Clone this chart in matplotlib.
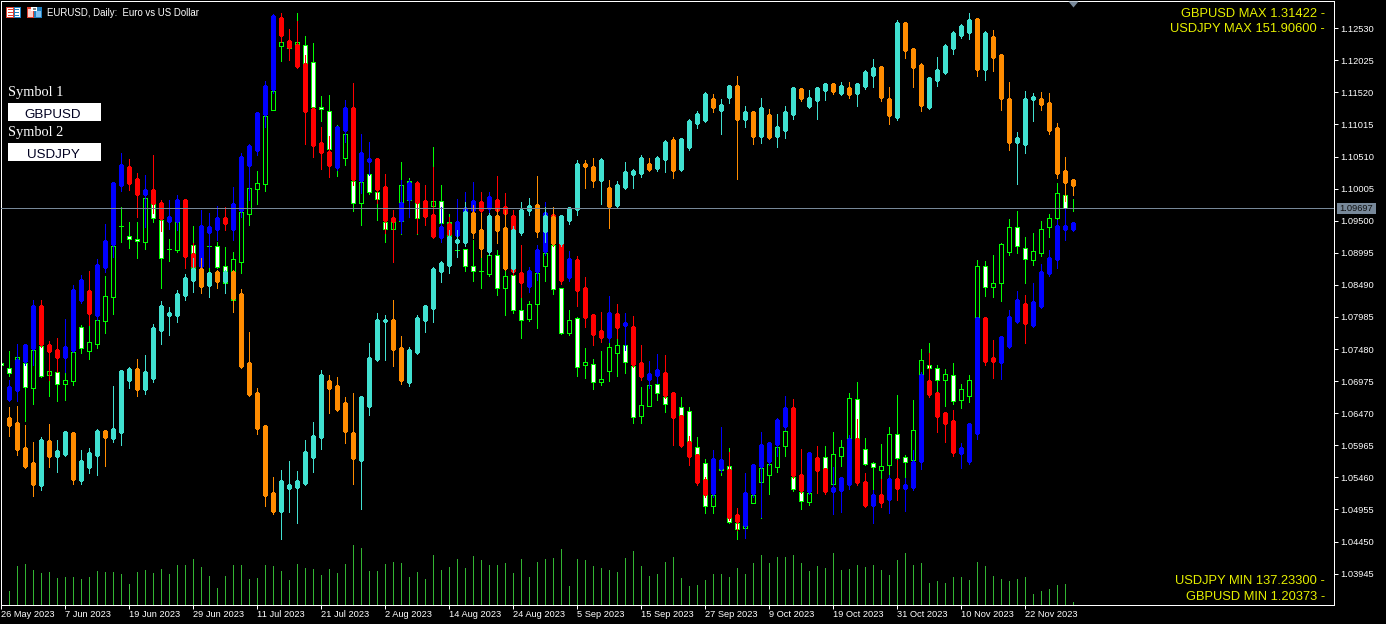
import numpy as np
import matplotlib
matplotlib.use('Agg')
import matplotlib.pyplot as plt
from matplotlib.patches import Rectangle, Polygon

# all prices are pips above 1.0000, daily bars of the chart
eur_open = [726,718,731,726,687,753,707,712,693,698,783,745,756,792,830,942,926,921,917,976,951,906,904,967,912,880,910,910,879,825,885,961,1000,1008,1124,1225,1222,1203,1227,1200,1129,1123,1038,1049,1013,978,1024,995,948,937,950,983,978,975,973,981,948,904,906,879,871,866,896,844,865,810,795,819,879,912,844,773,797,723,725,696,714,742,754,721,643,658,693,673,662,657,651,594,569,501,558,564,474,466,506,539,550,562,596,547,523,507,570,578,536,580,608,669,591,569,558,566,614,578,573,709,723,718,699,707,668,674,799,879,846,852,901,940,907,888,899,940,954,991,970]
eur_high = [747,745,756,756,747,753,761,765,718,743,786,786,806,863,910,972,948,948,1000,976,951,921,948,975,942,943,917,917,909,901,964,1011,1028,1115,1154,1249,1250,1277,1241,1230,1146,1148,1101,1109,1014,1011,1041,997,948,951,1043,1017,978,983,1066,1006,961,935,906,920,904,904,904,873,869,830,824,868,904,912,844,810,799,750,732,745,761,765,754,721,688,699,696,673,668,673,657,610,575,518,573,592,490,510,518,561,567,594,619,547,523,522,596,596,618,605,679,696,608,570,599,625,676,581,668,748,758,723,717,726,693,707,888,887,896,915,953,965,924,931,950,961,1009,1008,984]
eur_low = [699,706,728,635,662,704,674,666,668,692,742,732,750,773,803,917,907,891,906,948,844,887,901,896,838,873,865,876,836,817,868,943,976,997,1124,1201,1203,1190,1187,1129,1107,1063,1020,1038,965,943,992,951,917,932,929,975,929,943,959,946,920,893,871,855,844,863,833,802,805,765,792,781,855,835,772,770,706,703,685,692,698,706,710,632,632,658,668,649,640,643,602,581,490,490,550,474,449,463,506,482,520,555,580,525,496,503,522,558,533,564,605,605,566,526,520,550,573,544,570,706,707,680,658,662,655,665,794,832,830,824,896,899,852,880,895,924,943,969,965]
eur_close = [723,710,736,688,747,706,714,693,699,743,750,759,794,832,910,942,921,918,986,954,891,906,948,904,876,935,910,877,852,890,964,1002,1009,1115,1154,1231,1228,1231,1198,1129,1126,1063,1093,1087,978,1011,995,984,937,948,1006,1013,954,959,981,946,924,904,879,871,871,896,844,863,810,794,819,868,899,843,773,794,720,728,696,701,751,754,728,641,660,691,679,662,649,644,603,583,501,518,566,476,465,470,518,561,567,594,619,528,509,522,558,561,583,594,671,608,567,562,564,614,577,570,621,731,718,699,709,666,685,699,879,846,852,913,940,910,890,902,937,954,994,970,970]

gbp_open = [666,680,726,747,817,756,748,732,743,822,841,799,874,910,1003,1036,1017,989,1000,980,946,946,984,899,876,929,934,956,934,964,1035,1058,1115,1154,1271,1235,1228,1198,1127,1074,1060,1032,1090,1129,1011,1041,1049,1005,956,948,981,1011,983,961,921,946,924,943,964,981,967,984,973,959,869,844,868,899,961,959,858,890,846,803,778,764,805,783,784,728,698,704,712,680,644,603,583,544,518,558,559,488,468,518,561,569,596,624,657,551,522,578,561,522,523,533,608,540,499,520,509,545,526,528,569,699,680,649,636,581,569,613,799,736,725,750,789,821,783,813,865,887,934,934]
gbp_high = [699,756,756,825,825,761,765,795,849,865,871,890,945,1011,1057,1047,1025,1022,1054,983,983,991,984,915,967,962,973,972,1003,1057,1071,1121,1170,1275,1277,1252,1264,1211,1129,1098,1083,1099,1140,1167,1087,1074,1049,1024,967,1014,1014,1013,1006,1035,972,956,984,995,1011,995,995,1020,994,967,912,877,912,980,972,959,902,895,861,803,806,832,819,805,800,754,729,740,739,680,644,611,583,547,589,625,586,498,553,567,618,602,640,674,669,591,586,596,561,562,547,613,638,553,526,544,550,573,545,589,712,742,680,649,652,600,632,799,799,762,769,810,839,833,852,882,904,951,970,948]
gbp_low = [666,666,723,723,751,699,712,712,743,821,786,794,869,893,997,998,956,940,962,934,937,935,876,873,869,877,920,935,920,956,983,1054,1098,1151,1231,1203,1190,1071,1050,1032,1019,1030,1074,1006,994,1022,978,931,885,931,956,931,943,923,917,920,920,935,959,958,959,958,940,865,830,838,857,896,910,850,855,816,783,754,759,759,765,747,720,699,687,695,671,597,594,566,534,515,515,555,479,463,451,515,484,566,580,621,545,522,520,522,520,488,492,528,534,499,474,499,490,510,493,526,559,673,618,602,580,561,567,607,723,703,701,750,789,758,783,813,863,876,920,934]
gbp_close = [690,732,756,817,753,742,732,753,843,858,802,882,920,1011,1039,1006,989,1000,975,951,957,984,891,876,943,942,956,943,978,1052,1069,1121,1164,1274,1239,1220,1190,1120,1066,1055,1035,1099,1129,1013,1058,1049,997,948,946,980,1011,976,954,923,942,926,950,972,983,964,989,964,959,868,850,872,906,964,912,854,891,838,795,769,764,806,780,791,721,703,710,717,673,638,594,577,536,517,577,575,481,474,523,567,599,602,638,657,547,523,586,555,522,531,547,608,536,499,520,504,545,526,536,572,709,674,640,629,583,594,632,799,726,726,769,800,827,786,824,871,893,943,943,948]

jpy_open = [641,633,594,570,531,605,577,580,618,539,559,578,621,605,614,696,718,682,699,775,799,799,830,854,876,846,871,852,871,836,728,680,629,523,490,526,528,534,575,606,699,691,665,618,570,655,729,789,795,751,693,740,791,810,868,877,913,913,964,937,899,959,940,873,929,964,976,931,957,912,948,965,1041,1036,1011,1003,972,1000,1020,1022,1041,1030,1044,1079,1028,1063,1101,1105,1143,1121,1142,1164,1107,1123,1080,1118,1080,1090,1115,1159,1127,1137,1153,1167,1148,1161,1148,1159,1176,1194,1143,1110,1263,1222,1197,1126,1168,1181,1219,1239,1244,1269,1186,1241,1213,1143,1071,1068,1139,1143,1137,1098,1030,1016]
jpy_high = [657,658,629,602,610,630,605,619,618,589,592,622,621,690,715,720,732,739,788,824,814,841,866,891,891,869,873,873,873,843,775,687,629,547,558,572,556,605,633,715,707,704,673,679,674,758,805,802,825,769,751,802,817,877,887,935,935,980,975,962,962,970,967,942,980,986,1020,972,972,959,972,1046,1046,1049,1049,1014,1013,1043,1032,1054,1049,1052,1077,1082,1080,1110,1123,1153,1150,1142,1164,1178,1131,1123,1143,1126,1118,1131,1161,1159,1156,1161,1167,1167,1168,1168,1167,1187,1205,1194,1161,1266,1263,1222,1198,1176,1208,1228,1249,1260,1277,1269,1249,1250,1213,1168,1090,1154,1151,1153,1151,1104,1050,1016]
jpy_low = [611,581,561,517,526,562,555,580,536,536,553,550,564,602,597,687,674,677,696,756,770,791,825,838,836,830,844,836,806,718,674,614,501,488,449,492,474,534,555,591,647,651,600,536,496,644,729,731,721,693,690,740,775,791,854,868,893,910,923,893,896,915,873,869,928,959,924,917,912,910,945,959,1002,1003,976,939,970,1000,1002,1019,1028,1028,1027,1017,1028,1061,1096,1105,1121,1087,1135,1016,1098,1071,1072,1079,1066,1080,1110,1139,1127,1110,1140,1150,1148,1143,1131,1157,1161,1139,1102,1109,1206,1161,1123,1126,1162,1181,1213,1238,1236,1178,1172,1186,1124,1061,1008,1057,1107,1124,1087,1017,981,991]
jpy_close = [625,588,561,532,607,577,589,619,540,573,586,621,607,624,715,718,682,714,783,817,806,836,861,876,844,869,852,871,825,718,674,621,515,490,542,536,542,588,613,709,684,651,616,573,674,736,795,795,745,696,748,799,817,876,885,926,921,965,929,904,959,932,873,937,968,975,931,959,912,959,972,1041,1033,1011,1047,970,1008,1028,1030,1050,1028,1050,1076,1027,1080,1109,1120,1151,1126,1134,1164,1107,1123,1080,1129,1079,1099,1123,1161,1140,1145,1161,1167,1151,1164,1146,1167,1186,1192,1142,1113,1263,1216,1189,1129,1176,1189,1227,1247,1258,1268,1186,1247,1205,1140,1071,1082,1143,1146,1131,1090,1022,1008,1003]

tick_volume = [30,14,39,41,35,32,33,27,28,28,26,28,34,33,33,31,21,33,35,32,36,31,40,40,46,38,29,17,29,40,40,26,27,40,39,34,25,41,37,36,30,36,32,41,60,57,34,34,41,43,42,28,33,26,50,35,38,46,37,49,45,40,40,42,32,46,28,43,46,47,56,19,46,45,39,37,35,33,47,54,39,29,31,43,48,27,19,20,25,31,31,28,37,31,42,50,42,48,48,50,42,34,39,37,52,35,36,40,38,40,35,30,45,52,40,42,22,24,22,28,28,25,43,39,29,26,24,26,28,11,14,16,20,21,3]

date_labels = ['26 May 2023','7 Jun 2023','19 Jun 2023','29 Jun 2023','11 Jul 2023','21 Jul 2023','2 Aug 2023','14 Aug 2023','24 Aug 2023','5 Sep 2023','15 Sep 2023','27 Sep 2023','9 Oct 2023','19 Oct 2023','31 Oct 2023','10 Nov 2023','22 Nov 2023']
price_ticks = [1.12530,1.12025,1.11520,1.11015,1.10510,1.10005,1.09500,1.08995,1.08490,1.07985,1.07480,1.06975,1.06470,1.05965,1.05460,1.04955,1.04450,1.03945]
last_price = 1.09697

W, H = 1386, 624
PX = 72/100
STEP = 0.0001574  # price of one screen row
FONT = 'Liberation Sans'

fig = plt.figure(figsize=(W/100, H/100), dpi=100, facecolor='black')


def fx(x):
    return x/W


def fy(y):
    return 1 - y/H


def box(x, y, w, h, color, zorder=5):
    fig.add_artist(Rectangle((fx(x), fy(y+h)), w/W, h/H, transform=fig.transFigure,
                             facecolor=color, edgecolor='none', antialiased=False, zorder=zorder))


rect = [1.4/W, 18.6/H, 1333/W, 604/H]

ax_vol = fig.add_axes(rect, facecolor='black')
ax_vol.set_xlim(0, 166.625)
ax_vol.set_ylim(0, 604)
ax_vol.axis('off')
ax_vol.vlines(np.arange(len(tick_volume)), 0, tick_volume, colors='#32b432', linewidths=PX, antialiased=False)

ax = fig.add_axes(rect, facecolor='none')
ax.set_xlim(0, 166.625)
ax.set_ylim(1.12975 - 605.5*STEP, 1.12975 - 1.5*STEP)
for s in ax.spines.values():
    s.set_color('white')
    s.set_linewidth(PX)
ax.yaxis.tick_right()
ax.set_yticks(price_ticks, ['%.5f' % p for p in price_ticks])
ax.set_xticks(np.arange(len(date_labels))*8, date_labels, ha='left')
ax.tick_params(colors='white', length=3.2, width=PX, labelsize=6.7, pad=1)
for t in ax.get_xticklabels() + ax.get_yticklabels():
    t.set_fontfamily(FONT)
ax.tick_params(axis='x', pad=0.3)


def prices(values):
    return 1 + np.array(values)/10000


def plain_candles(first, o, h, l, c, z):
    o, h, l, c = prices(o), prices(h), prices(l), prices(c)
    x = first + np.arange(len(o))
    ax.vlines(x, l, h, colors='#00ff00', linewidths=PX, antialiased=False, zorder=z)
    top = np.maximum(o, c)
    bot = np.minimum(o, c)
    faces = ['black' if cc >= oo else 'white' for oo, cc in zip(o, c)]
    ax.bar(x, top-bot, 0.5, bot, color=faces, edgecolor='#00ff00', linewidth=PX, antialiased=False, zorder=z+0.5)


def solid_candles(first, o, h, l, c, up, down, z):
    o, h, l, c = prices(o), prices(h), prices(l), prices(c)
    x = first + np.arange(len(o))
    colors = [up if cc >= oo else down for oo, cc in zip(o, c)]
    ax.vlines(x, l, h, colors=colors, linewidths=PX, antialiased=False, zorder=z)
    top = np.maximum(o, c)
    bot = np.minimum(o, c)
    # body is 5 rows wide with the corners cut
    ax.bar(x, top-bot, 3/8, bot, color=colors, linewidth=0, antialiased=False, zorder=z+0.5)
    ax.bar(x, top-bot-2*STEP, 5/8, bot+STEP, color=colors, linewidth=0, antialiased=False, zorder=z+0.5)


plain_candles(0, eur_open, eur_high, eur_low, eur_close, 2)
solid_candles(1, gbp_open, gbp_high, gbp_low, gbp_close, '#0000ff', '#ff0000', 4)
solid_candles(1, jpy_open, jpy_high, jpy_low, jpy_close, '#40e0d0', '#ff8c00', 6)

ax.axhline(last_price, color='#778899', linewidth=PX, antialiased=False, zorder=8)

# price tag on the right
box(1337, 203, 39, 11, '#778899')
fig.text(fx(1356.5), fy(209), '%.5f' % last_price, color='#101010', fontsize=6.7, family=FONT,
         ha='center', va='center', zorder=6)

# shift marker on top
fig.add_artist(Polygon([(fx(1068.5), fy(1.5)), (fx(1078.5), fy(1.5)), (fx(1073.5), fy(7.5))], transform=fig.transFigure,
                       facecolor='#778899', edgecolor='none', zorder=5))

# title and its two icons
fig.text(fx(47), fy(13), 'EURUSD, Daily:  Euro vs US Dollar', color='white', fontsize=6.9, family=FONT, va='center')
box(6, 7, 15, 11, '#e04030')
box(7, 8, 6, 9, 'white')
box(14, 8, 6, 9, 'white')
box(14, 7, 7, 11, '#2080c0')
box(15, 8, 5, 9, 'white')
for yy in (9, 12, 15):
    box(8, yy, 5, 1, '#e04030')
    box(15, yy, 4, 1, '#2080c0')
box(27, 7, 15, 11, '#2080c0')
box(27, 7, 7, 11, '#e04030')
box(28, 9, 5, 8, '#ffd0c8')
box(36, 11, 5, 6, '#80c0f0')
box(31, 7, 6, 4, 'white')
box(33, 8, 3, 2, '#808080')

# symbol inputs
fig.text(fx(7.5), fy(92.5), 'Symbol 1', color='white', fontsize=10.4, family='Liberation Serif', va='center')
fig.text(fx(7.5), fy(132.5), 'Symbol 2', color='white', fontsize=10.4, family='Liberation Serif', va='center')
box(8, 103, 93, 18, 'white')
box(8, 143, 93, 18, 'white')
fig.text(fx(52.5), fy(114.5), 'GBPUSD', color='#000020', fontsize=9.6, family=FONT, ha='center', va='center', zorder=6)
fig.text(fx(53.5), fy(154.5), 'USDJPY', color='#000020', fontsize=9.6, family=FONT, ha='center', va='center', zorder=6)

# max and min readouts
for yy, s in ((14, 'GBPUSD MAX 1.31422 -'), (29, 'USDJPY MAX 151.90600 -'),
              (581.5, 'USDJPY MIN 137.23300 -'), (597, 'GBPUSD MIN 1.20373 -')):
    fig.text(fx(1325), fy(yy), s, color='#e6f000', fontsize=9.3, family=FONT, ha='right', va='center')

fig.savefig('out.png', dpi=100, facecolor='black')
